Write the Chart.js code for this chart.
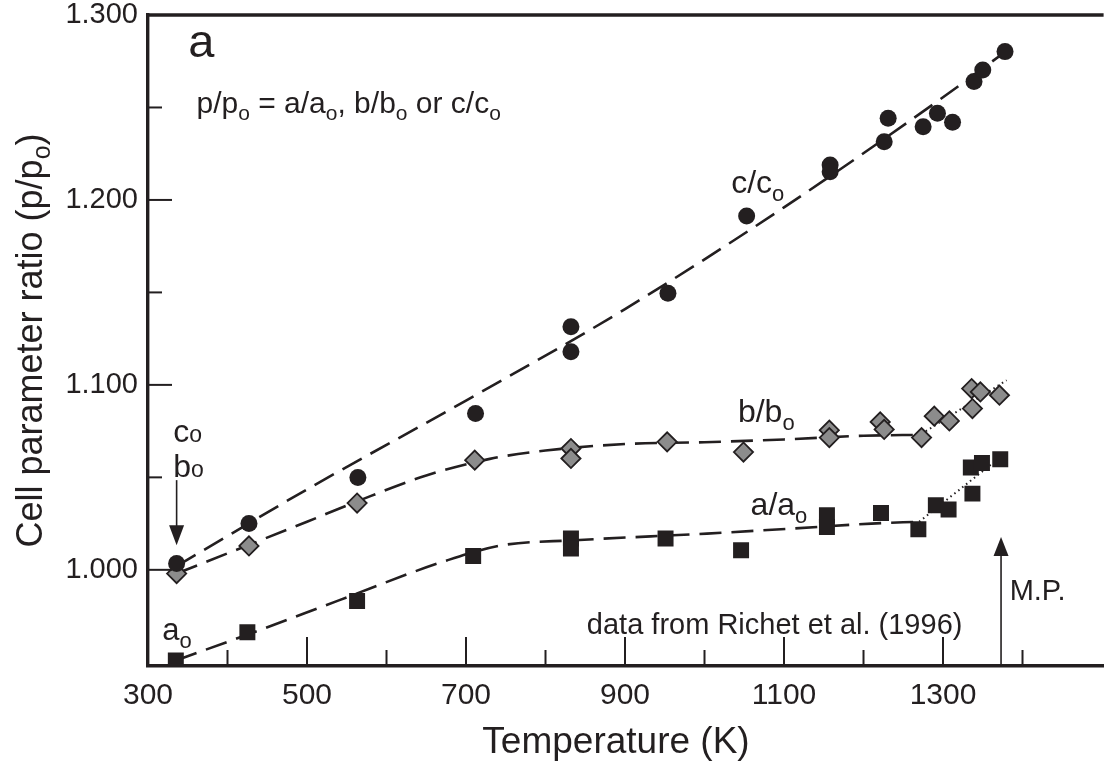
<!DOCTYPE html>
<html>
<head>
<meta charset="utf-8">
<script src="https://cdn.jsdelivr.net/npm/chart.js@4/dist/chart.umd.min.js"></script>
<style>
html,body{margin:0;padding:0;background:#fff;}
#wrap{width:1115px;height:766px;}
</style>
</head>
<body>
<div id="wrap"><canvas id="c" width="1115" height="766"></canvas></div>
<script>
// ---------------- data ----------------
const cT = [336, 427, 564, 712, 832, 832, 954, 1053, 1158, 1158, 1226, 1231, 1275, 1293, 1312, 1339, 1350, 1378];
const cV = [1.0034, 1.025, 1.0499, 1.0845, 1.1314, 1.1179, 1.1495, 1.1913, 1.2189, 1.2153, 1.2315, 1.2442, 1.2396, 1.2469, 1.2420, 1.2640, 1.2703, 1.2802];

const bT = [336, 427, 563, 711, 832, 832, 953, 1049, 1157, 1157, 1221, 1226, 1273, 1289, 1308, 1336, 1337, 1347, 1371];
const bV = [0.998, 1.0129, 1.0361, 1.0593, 1.0656, 1.0602, 1.0692, 1.0637, 1.0755, 1.0715, 1.0800, 1.0759, 1.0715, 1.0831, 1.0805, 1.0980, 1.0872, 1.0962, 1.0944];

const aT = [335, 425, 563, 709, 832, 832, 951, 1046, 1154, 1154, 1222, 1269, 1291, 1307, 1335, 1337, 1349, 1372];
const aV = [0.951, 0.9663, 0.9831, 1.0075, 1.0170, 1.0115, 1.0169, 1.0106, 1.0295, 1.0232, 1.0307, 1.0219, 1.0349, 1.0326, 1.0553, 1.0412, 1.0578, 1.0598];

// fitted trend curves (dashed) and melting-region trends (dotted)
const cFitT = [336, 500, 700, 900, 1100, 1300, 1378];
const cFitV = [1.002, 1.0435, 1.0915, 1.141, 1.196, 1.2555, 1.280];
const bFitT = [336, 427, 500, 563, 650, 730, 800, 900, 1000, 1100, 1200, 1273];
const bFitV = [0.998, 1.0135, 1.026, 1.037, 1.051, 1.060, 1.0645, 1.068, 1.069, 1.0705, 1.0725, 1.073];
const bDotT = [1273, 1380];
const bDotV = [1.0735, 1.1025];
const aFitT = [335, 440, 540, 676, 746, 837, 1003, 1110, 1210, 1270];
const aFitV = [0.951, 0.9673, 0.9835, 1.0051, 1.0133, 1.016, 1.0196, 1.0223, 1.025, 1.026];
const aDotT = [1270, 1362];
const aDotV = [1.026, 1.0575];

const meltT = 1373;        // M.P. arrow
const refT = 336;          // c_o / b_o arrow

const xMajorTicks = [300, 500, 700, 900, 1100, 1300];
const xMinorTicks = [400, 600, 800, 1000, 1200, 1400];
const yMajorTicks = [1.0, 1.1, 1.2, 1.3];
const yMinorTicks = [1.05, 1.15, 1.25];

// ---------------- styling ----------------
const INK = '#231f20';
const GREY = '#8c8c8c';
const FONT = '"Liberation Sans", Arial, Helvetica, sans-serif';

const pts = (xs, ys) => xs.map((x, i) => ({x: x, y: ys[i]}));

function richText(ctx, x, y, parts, align) {
  let w = 0;
  parts.forEach(p => { ctx.font = p[1] + 'px ' + FONT; w += ctx.measureText(p[0]).width; });
  let cx = align === 'center' ? x - w / 2 : x;
  ctx.textBaseline = 'alphabetic';
  ctx.textAlign = 'left';
  parts.forEach(p => {
    ctx.font = p[1] + 'px ' + FONT;
    ctx.fillText(p[0], cx, y + (p[2] || 0));
    cx += ctx.measureText(p[0]).width;
  });
}

function arrowUp(ctx, x, y0, y1, hl, hw) {
  ctx.beginPath(); ctx.moveTo(x, y0); ctx.lineTo(x, y1 + hl - 2); ctx.stroke();
  ctx.beginPath(); ctx.moveTo(x, y1); ctx.lineTo(x - hw / 2, y1 + hl); ctx.lineTo(x + hw / 2, y1 + hl); ctx.closePath(); ctx.fill();
}
function arrowDown(ctx, x, y0, y1, hl, hw) {
  ctx.beginPath(); ctx.moveTo(x, y0); ctx.lineTo(x, y1 - hl + 2); ctx.stroke();
  ctx.beginPath(); ctx.moveTo(x, y1); ctx.lineTo(x - hw / 2, y1 - hl); ctx.lineTo(x + hw / 2, y1 - hl); ctx.closePath(); ctx.fill();
}

const decor = {
  id: 'decor',
  afterDraw(chart) {
    const {ctx, chartArea: ca, scales: {x, y}} = chart;
    ctx.save();
    ctx.strokeStyle = INK; ctx.fillStyle = INK;
    ctx.lineWidth = 3.4;
    ctx.beginPath(); ctx.moveTo(ca.left - 1.7, ca.top); ctx.lineTo(ca.right, ca.top); ctx.stroke();
    ctx.lineWidth = 2;
    xMajorTicks.forEach(v => { const px = x.getPixelForValue(v); ctx.beginPath(); ctx.moveTo(px, ca.bottom); ctx.lineTo(px, ca.bottom - 29); ctx.stroke(); });
    xMinorTicks.forEach(v => { const px = x.getPixelForValue(v); ctx.beginPath(); ctx.moveTo(px, ca.bottom); ctx.lineTo(px, ca.bottom - 16); ctx.stroke(); });
    yMajorTicks.forEach(v => { const py = y.getPixelForValue(v); ctx.beginPath(); ctx.moveTo(ca.left, py); ctx.lineTo(ca.left + 24, py); ctx.stroke(); });
    yMinorTicks.forEach(v => { const py = y.getPixelForValue(v); ctx.beginPath(); ctx.moveTo(ca.left, py); ctx.lineTo(ca.left + 14, py); ctx.stroke(); });

    ctx.lineWidth = 1.6;
    const mx = x.getPixelForValue(meltT);
    arrowUp(ctx, mx, ca.bottom, y.getPixelForValue(1.0177), 19, 15);
    const rx = x.getPixelForValue(refT);
    arrowDown(ctx, rx, y.getPixelForValue(1.0485), y.getPixelForValue(1.0133), 20, 15);

    const X = v => x.getPixelForValue(v), Y = v => y.getPixelForValue(v);
    ctx.fillStyle = INK;
    richText(ctx, X(350.7), Y(1.2775), [['a', 47]]);
    richText(ctx, X(361), Y(1.2469), [['p/p', 30], ['o', 21, 7], [' = a/a', 30], ['o', 21, 7], [', b/b', 30], ['o', 21, 7], [' or c/c', 30], ['o', 21, 7]]);
    richText(ctx, X(1033.5), Y(1.2037), [['c/c', 32], ['o', 22, 8]]);
    richText(ctx, X(1042), Y(1.080), [['b/b', 32], ['o', 22, 8]]);
    richText(ctx, X(1058), Y(1.0295), [['a/a', 32], ['o', 22, 8]]);
    richText(ctx, X(331.7), Y(1.0692), [['c', 32], ['o', 23]]);
    richText(ctx, X(331.7), Y(1.0500), [['b', 32], ['o', 23]]);
    richText(ctx, X(318), Y(0.9619), [['a', 31], ['o', 22, 8]]);
    richText(ctx, X(1383.8), Y(0.9835), [['M.P.', 29]]);
    richText(ctx, X(852), Y(0.9651), [['data from Richet et al. (1996)', 29]]);

    // axis titles
    richText(ctx, 616, 753, [['Temperature (K)', 37]], 'center');
    ctx.save();
    ctx.translate(42, (ca.top + ca.bottom) / 2);
    ctx.rotate(-Math.PI / 2);
    richText(ctx, 0, 0, [['Cell parameter ratio (p/p', 36], ['o', 25, 8], [')', 36]], 'center');
    ctx.restore();
    ctx.restore();
  }
};

const markerBase = {showLine: false, pointHoverRadius: 0};
const lineBase = {showLine: true, pointRadius: 0, pointHoverRadius: 0, borderColor: INK, fill: false, cubicInterpolationMode: 'monotone', order: 5};

new Chart(document.getElementById('c'), {
  type: 'scatter',
  data: {
    datasets: [
      Object.assign({label: 'c/co', data: pts(cT, cV), pointStyle: 'circle', pointRadius: 8.5, pointBackgroundColor: INK, pointBorderWidth: 0, order: 1}, markerBase),
      Object.assign({label: 'b/bo', data: pts(bT, bV), pointStyle: 'rectRot', pointRadius: 9.6, pointBackgroundColor: GREY, pointBorderColor: INK, pointBorderWidth: 1.8, order: 1}, markerBase),
      Object.assign({label: 'a/ao', data: pts(aT, aV), pointStyle: 'rect', pointRadius: 11.3, pointBackgroundColor: INK, pointBorderWidth: 0, order: 1}, markerBase),
      Object.assign({label: 'c fit', data: pts(cFitT, cFitV), borderWidth: 2.6, borderDash: [22, 10]}, lineBase),
      Object.assign({label: 'b fit', data: pts(bFitT, bFitV), borderWidth: 2.6, borderDash: [22, 10]}, lineBase),
      Object.assign({label: 'a fit', data: pts(aFitT, aFitV), borderWidth: 2.6, borderDash: [22, 10]}, lineBase),
      Object.assign({label: 'b melt', data: pts(bDotT, bDotV), borderWidth: 2, borderDash: [1.5, 3.5]}, lineBase),
      Object.assign({label: 'a melt', data: pts(aDotT, aDotV), borderWidth: 2, borderDash: [1.5, 3.5]}, lineBase)
    ]
  },
  options: {
    responsive: false,
    animation: false,
    devicePixelRatio: 1,
    layout: {padding: {top: 15, right: 0, left: 0, bottom: 0}},
    plugins: {legend: {display: false}, tooltip: {enabled: false}},
    scales: {
      x: {
        type: 'linear', position: 'bottom', min: 300, max: 1502,
        grid: {display: false, drawTicks: false},
        border: {display: true, color: INK, width: 3.4},
        afterBuildTicks: s => { s.ticks = xMajorTicks.map(v => ({value: v})); },
        afterFit: s => { s.height = 100; s.paddingLeft = 0; s.paddingRight = 0; },
        ticks: {color: INK, font: {family: FONT, size: 30}, padding: 12, maxRotation: 0, autoSkip: false, callback: v => String(v)},
        title: {display: false}
      },
      y: {
        type: 'linear', position: 'left', min: 0.948, max: 1.3,
        grid: {display: false, drawTicks: false},
        border: {display: true, color: INK, width: 3.4},
        afterBuildTicks: s => { s.ticks = yMajorTicks.map(v => ({value: v})); },
        afterFit: s => { s.width = 148; s.paddingTop = 0; s.paddingBottom = 0; },
        ticks: {color: INK, font: {family: FONT, size: 29}, padding: 10, callback: v => Number(v).toFixed(3)}
      }
    }
  },
  plugins: [decor]
});
</script>
</body>
</html>
